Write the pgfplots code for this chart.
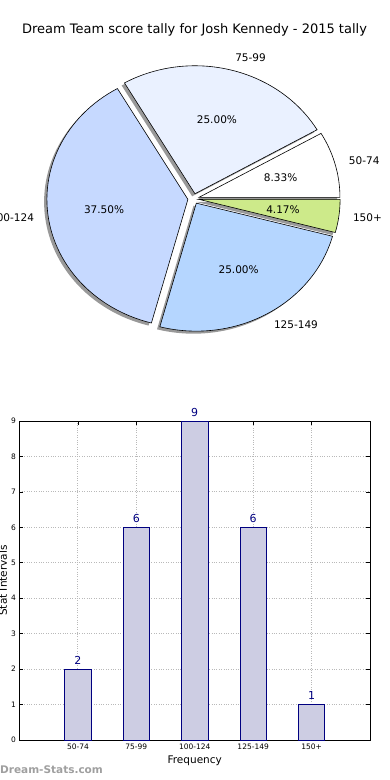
\documentclass[border=0pt]{standalone}
\usepackage{pgfplots}
\pgfplotsset{compat=1.18}
\usepackage{fontspec}
\setmainfont{DejaVu Sans}
\definecolor{sA}{HTML}{FFFFFF}
\definecolor{sB}{HTML}{EAF1FF}
\definecolor{sC}{HTML}{C6D9FF}
\definecolor{sD}{HTML}{B5D6FF}
\definecolor{sE}{HTML}{CDEA8A}
\definecolor{barfill}{HTML}{CDCDE3}
\definecolor{navyc}{HTML}{000080}
% start angle, end angle, offset x, offset y, shadow x, shadow y, colour
\newcommand{\pieslice}[7]{%
  \addplot[fill=black, fill opacity=0.4, draw=none, domain=#1:#2, samples=60, variable=\t]
    ({#5+cos(\t)}, {#6+sin(\t)}) -- (#5,#6) -- cycle;
  \addplot[fill=#7, draw=black, line width=0.6pt, domain=#1:#2, samples=60, variable=\t]
    ({#3+cos(\t)}, {#4+sin(\t)}) -- (#3,#4) -- cycle;
}
\begin{document}
\begin{tikzpicture}
\path[use as bounding box] (0,-780pt) rectangle (390pt,0pt);
\node[font=\fontsize{13}{15}\selectfont] at (194.5pt,-30pt) {Dream Team score tally for Josh Kennedy - 2015 tally};
% ---------------- pie: counts 2, 6, 9, 6, 1 of 24 -----------------
\begin{axis}[at={(52.5pt,-326.7pt)}, anchor=south west, scale only axis,
  width=282pt, height=256pt, xmin=-1, xmax=1, ymin=-1, ymax=1,
  hide axis, clip=false]
\pieslice{0}{30}{0.03864}{0.01035}{0.01864}{-0.00965}{sA}
\pieslice{30}{120}{0.01035}{0.03864}{-0.00965}{0.01864}{sB}
\pieslice{120}{255}{-0.03966}{-0.00522}{-0.05966}{-0.02522}{sC}
\pieslice{255}{345}{0.02}{-0.03464}{0}{-0.05464}{sD}
\pieslice{345}{360}{0.03966}{-0.00522}{0.01966}{-0.02522}{sE}
\begin{scope}[font=\fontsize{10.5}{12}\selectfont]
\node at (axis cs:0.618,0.166) {8.33\%};
\node at (axis cs:0.166,0.618) {25.00\%};
\node at (axis cs:-0.6345,-0.0835) {37.50\%};
\node at (axis cs:0.32,-0.554) {25.00\%};
\node at (axis cs:0.6345,-0.0835) {4.17\%};
\node[anchor=west, inner sep=0pt] at (axis cs:1.101,0.295) {50-74};
\node[anchor=west, inner sep=0pt] at (axis cs:0.295,1.101) {75-99};
\node[anchor=east, inner sep=0pt] at (axis cs:-1.130,-0.149) {100-124};
\node[anchor=west, inner sep=0pt] at (axis cs:0.57,-0.987) {125-149};
\node[anchor=west, inner sep=0pt] at (axis cs:1.130,-0.149) {150+};
\end{scope}
\end{axis}
% ---------------- bar chart -----------------
\begin{axis}[at={(19.5pt,-740pt)}, anchor=south west, scale only axis,
  width=350.5pt, height=319pt,
  xmin=-1, xmax=5, ymin=0, ymax=9,
  ybar, bar width=0.45,
  xtick={0,1,2,3,4}, xticklabels={50-74,75-99,100-124,125-149,150+},
  ytick={0,1,...,9},
  /pgf/number format/assume math mode=true,
  tick label style={font=\fontsize{7.5}{9}\selectfont},
  xticklabel style={yshift=-0.5pt},
  tick align=inside, major tick length=4pt,
  tick style={black, line width=0.6pt},
  xtick pos=both, ytick pos=both,
  grid=major, grid style={dotted, gray!55, line width=0.9pt},
  axis line style={line width=0.8pt},
  clip=false,
  xlabel={Frequency}, ylabel={Stat Intervals},
  label style={font=\fontsize{10.5}{12}\selectfont},
  xlabel style={at={(axis description cs:0.5,0)}, anchor=center, yshift=-20.5pt},
  ylabel style={at={(axis description cs:-0.0471,0.5)}, anchor=center},
  nodes near coords,
  every node near coord/.append style={font=\fontsize{11}{13}\selectfont, text=navyc, anchor=south, inner sep=0pt, yshift=4.5pt},
]
\addplot[fill=barfill, draw=navyc, line width=0.7pt] coordinates {(0,2) (1,6) (2,9) (3,6) (4,1)};
\end{axis}
\node[anchor=west, inner sep=0pt, font=\bfseries\fontsize{10.5}{12}\selectfont, text=gray!75] at (0pt,-770pt) {Dream-Stats.com};
\end{tikzpicture}
\end{document}
